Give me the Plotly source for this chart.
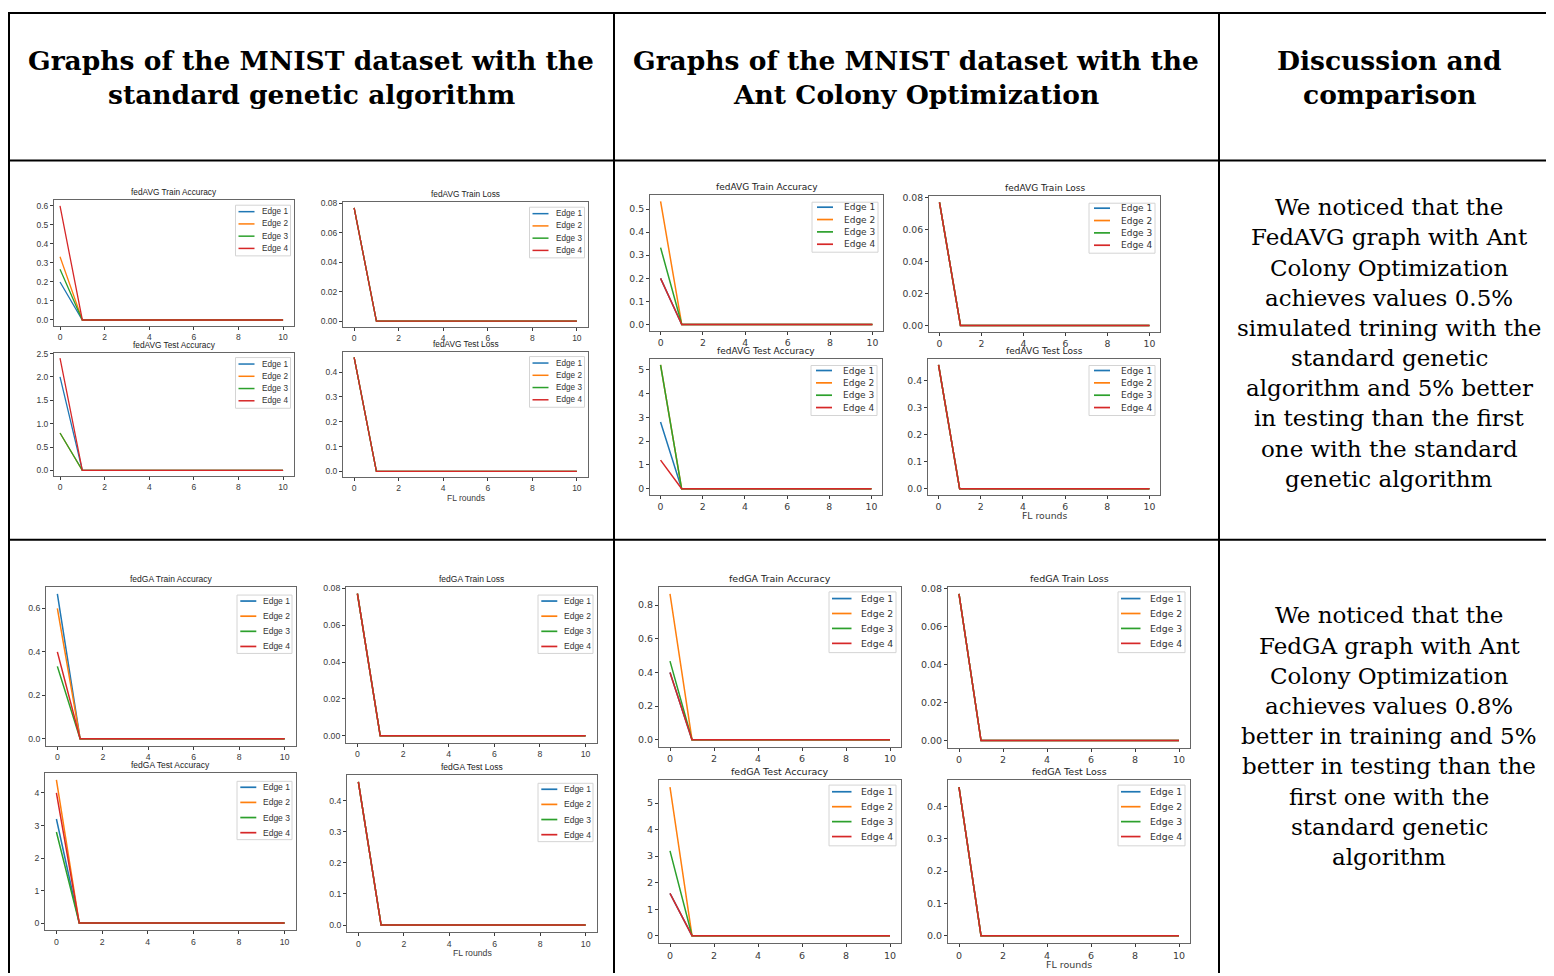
import plotly.graph_objects as go

# The page puts the figure 8px in from the left and 11px down from the top.
OFFX, OFFY = 8, 11
W, H = 1554 - OFFX, 976 - OFFY

# ---------------- data ----------------
rounds = [0, 1, 2, 3, 4, 5, 6, 7, 8, 9, 10]
edges = ["Edge 1", "Edge 2", "Edge 3", "Edge 4"]
colors = ["#1f77b4", "#ff7f0e", "#2ca02c", "#d62728"]

# MNIST, standard genetic algorithm - fedAVG
avg_ga_train_acc = [
    [0.20, 0, 0, 0, 0, 0, 0, 0, 0, 0, 0],
    [0.333, 0, 0, 0, 0, 0, 0, 0, 0, 0, 0],
    [0.267, 0, 0, 0, 0, 0, 0, 0, 0, 0, 0],
    [0.60, 0, 0, 0, 0, 0, 0, 0, 0, 0, 0],
]
avg_ga_train_loss = [
    [0.077, 0, 0, 0, 0, 0, 0, 0, 0, 0, 0],
    [0.077, 0, 0, 0, 0, 0, 0, 0, 0, 0, 0],
    [0.077, 0, 0, 0, 0, 0, 0, 0, 0, 0, 0],
    [0.077, 0, 0, 0, 0, 0, 0, 0, 0, 0, 0],
]
avg_ga_test_acc = [
    [2.0, 0, 0, 0, 0, 0, 0, 0, 0, 0, 0],
    [0.8, 0, 0, 0, 0, 0, 0, 0, 0, 0, 0],
    [0.8, 0, 0, 0, 0, 0, 0, 0, 0, 0, 0],
    [2.4, 0, 0, 0, 0, 0, 0, 0, 0, 0, 0],
]
avg_ga_test_loss = [
    [0.46, 0, 0, 0, 0, 0, 0, 0, 0, 0, 0],
    [0.46, 0, 0, 0, 0, 0, 0, 0, 0, 0, 0],
    [0.46, 0, 0, 0, 0, 0, 0, 0, 0, 0, 0],
    [0.46, 0, 0, 0, 0, 0, 0, 0, 0, 0, 0],
]

# MNIST, Ant Colony Optimization - fedAVG
avg_aco_train_acc = [
    [0.20, 0, 0, 0, 0, 0, 0, 0, 0, 0, 0],
    [0.533, 0, 0, 0, 0, 0, 0, 0, 0, 0, 0],
    [0.333, 0, 0, 0, 0, 0, 0, 0, 0, 0, 0],
    [0.20, 0, 0, 0, 0, 0, 0, 0, 0, 0, 0],
]
avg_aco_train_loss = [
    [0.077, 0, 0, 0, 0, 0, 0, 0, 0, 0, 0],
    [0.077, 0, 0, 0, 0, 0, 0, 0, 0, 0, 0],
    [0.077, 0, 0, 0, 0, 0, 0, 0, 0, 0, 0],
    [0.077, 0, 0, 0, 0, 0, 0, 0, 0, 0, 0],
]
avg_aco_test_acc = [
    [2.8, 0, 0, 0, 0, 0, 0, 0, 0, 0, 0],
    [5.2, 0, 0, 0, 0, 0, 0, 0, 0, 0, 0],
    [5.2, 0, 0, 0, 0, 0, 0, 0, 0, 0, 0],
    [1.2, 0, 0, 0, 0, 0, 0, 0, 0, 0, 0],
]
avg_aco_test_loss = [
    [0.46, 0, 0, 0, 0, 0, 0, 0, 0, 0, 0],
    [0.46, 0, 0, 0, 0, 0, 0, 0, 0, 0, 0],
    [0.46, 0, 0, 0, 0, 0, 0, 0, 0, 0, 0],
    [0.46, 0, 0, 0, 0, 0, 0, 0, 0, 0, 0],
]

# MNIST, standard genetic algorithm - fedGA
ga_ga_train_acc = [
    [0.667, 0, 0, 0, 0, 0, 0, 0, 0, 0, 0],
    [0.60, 0, 0, 0, 0, 0, 0, 0, 0, 0, 0],
    [0.333, 0, 0, 0, 0, 0, 0, 0, 0, 0, 0],
    [0.40, 0, 0, 0, 0, 0, 0, 0, 0, 0, 0],
]
ga_ga_train_loss = [
    [0.077, 0, 0, 0, 0, 0, 0, 0, 0, 0, 0],
    [0.077, 0, 0, 0, 0, 0, 0, 0, 0, 0, 0],
    [0.077, 0, 0, 0, 0, 0, 0, 0, 0, 0, 0],
    [0.077, 0, 0, 0, 0, 0, 0, 0, 0, 0, 0],
]
ga_ga_test_acc = [
    [3.2, 0, 0, 0, 0, 0, 0, 0, 0, 0, 0],
    [4.4, 0, 0, 0, 0, 0, 0, 0, 0, 0, 0],
    [2.8, 0, 0, 0, 0, 0, 0, 0, 0, 0, 0],
    [4.0, 0, 0, 0, 0, 0, 0, 0, 0, 0, 0],
]
ga_ga_test_loss = [
    [0.46, 0, 0, 0, 0, 0, 0, 0, 0, 0, 0],
    [0.46, 0, 0, 0, 0, 0, 0, 0, 0, 0, 0],
    [0.46, 0, 0, 0, 0, 0, 0, 0, 0, 0, 0],
    [0.46, 0, 0, 0, 0, 0, 0, 0, 0, 0, 0],
]

# MNIST, Ant Colony Optimization - fedGA
ga_aco_train_acc = [
    [0.40, 0, 0, 0, 0, 0, 0, 0, 0, 0, 0],
    [0.867, 0, 0, 0, 0, 0, 0, 0, 0, 0, 0],
    [0.467, 0, 0, 0, 0, 0, 0, 0, 0, 0, 0],
    [0.40, 0, 0, 0, 0, 0, 0, 0, 0, 0, 0],
]
ga_aco_train_loss = [
    [0.077, 0, 0, 0, 0, 0, 0, 0, 0, 0, 0],
    [0.077, 0, 0, 0, 0, 0, 0, 0, 0, 0, 0],
    [0.077, 0, 0, 0, 0, 0, 0, 0, 0, 0, 0],
    [0.077, 0, 0, 0, 0, 0, 0, 0, 0, 0, 0],
]
ga_aco_test_acc = [
    [1.6, 0, 0, 0, 0, 0, 0, 0, 0, 0, 0],
    [5.6, 0, 0, 0, 0, 0, 0, 0, 0, 0, 0],
    [3.2, 0, 0, 0, 0, 0, 0, 0, 0, 0, 0],
    [1.6, 0, 0, 0, 0, 0, 0, 0, 0, 0, 0],
]
ga_aco_test_loss = [
    [0.46, 0, 0, 0, 0, 0, 0, 0, 0, 0, 0],
    [0.46, 0, 0, 0, 0, 0, 0, 0, 0, 0, 0],
    [0.46, 0, 0, 0, 0, 0, 0, 0, 0, 0, 0],
    [0.46, 0, 0, 0, 0, 0, 0, 0, 0, 0, 0],
]

header_titles = [
    ["Graphs of the MNIST dataset with the", "standard genetic algorithm"],
    ["Graphs of the MNIST dataset with the", "Ant Colony Optimization"],
    ["Discussion and", "comparison"],
]
discussion_1 = [
    "We noticed that the", "FedAVG graph with Ant", "Colony Optimization",
    "achieves values 0.5%", "simulated trining with the", "standard genetic",
    "algorithm and 5% better", "in testing than the first", "one with the standard",
    "genetic algorithm",
]
discussion_2 = [
    "We noticed that the", "FedGA graph with Ant", "Colony Optimization",
    "achieves values 0.8%", "better in training and 5%", "better in testing than the",
    "first one with the", "standard genetic", "algorithm",
]


def px(x):
    return (x - OFFX) / W


def py(y):
    return 1 - (y - OFFY) / H


# ---------------- styles of the four screenshot groups ----------------
groups = {
    "A": dict(fam="Liberation Sans", tfs=8.5, hfs=8.3, lfs=8.2, lw=1.3,
              gt=5, e1=6.5, s=12.3, eb=7.5, gr=3.5, bw=55, ls=3, ll=16, tx=24),
    "B": dict(fam="DejaVu Sans", tfs=9.3, hfs=9, lfs=9, lw=1.5,
              gt=7, e1=5, s=12.4, eb=8, gr=5, bw=66, ls=5, ll=16, tx=30),
    "C": dict(fam="Liberation Sans", tfs=8.7, hfs=8.5, lfs=8.5, lw=1.5,
              gt=8.5, e1=6, s=15.2, eb=7, gr=4, bw=55, ls=3.3, ll=16, tx=24.3),
    "D": dict(fam="DejaVu Sans", tfs=9.5, hfs=9.5, lfs=9.3, lw=1.5,
              gt=5.3, e1=6.7, s=15, eb=9.3, gr=5, bw=67, ls=3, ll=19.5, tx=30),
}

# ---------------- panel layout (pixel boxes in the page) ----------------
# (data, title, group, x0, x1, y0, y1, x-range, dtick, tickformat, xlabel)
panels = [
    (avg_ga_train_acc, "fedAVG Train Accuracy", "A", 54, 294, 200, 326, [-0.27, 10.49], 0.1, ".1f", False),
    (avg_ga_train_loss, "fedAVG Train Loss", "A", 343, 588, 202, 327, [-0.5, 10.5], 0.02, ".2f", False),
    (avg_ga_test_acc, "fedAVG Test Accuracy", "A", 54, 294, 353, 477, [-0.27, 10.49], 0.5, ".1f", False),
    (avg_ga_test_loss, "fedAVG Test Loss", "A", 343, 588, 352, 478, [-0.5, 10.5], 0.1, ".1f", True),
    (avg_aco_train_acc, "fedAVG Train Accuracy", "B", 650, 883, 195, 331, [-0.5, 10.5], 0.1, ".1f", False),
    (avg_aco_train_loss, "fedAVG Train Loss", "B", 929, 1160, 196, 332, [-0.5, 10.5], 0.02, ".2f", False),
    (avg_aco_test_acc, "fedAVG Test Accuracy", "B", 650, 882, 359, 496, [-0.5, 10.5], 1, "d", False),
    (avg_aco_test_loss, "fedAVG Test Loss", "B", 928, 1160, 359, 496, [-0.5, 10.5], 0.1, ".1f", True),
    (ga_ga_train_acc, "fedGA Train Accuracy", "C", 46, 296, 588, 748, [-0.5, 10.5], 0.2, ".1f", False),
    (ga_ga_train_loss, "fedGA Train Loss", "C", 346, 597, 588, 745, [-0.5, 10.5], 0.02, ".2f", False),
    (ga_ga_test_acc, "fedGA Test Accuracy", "C", 45, 296, 775, 933, [-0.5, 10.5], 1, "d", False),
    (ga_ga_test_loss, "fedGA Test Loss", "C", 347, 597, 777, 935, [-0.5, 10.5], 0.1, ".1f", True),
    (ga_aco_train_acc, "fedGA Train Accuracy", "D", 659, 901, 588, 749, [-0.5, 10.5], 0.2, ".1f", False),
    (ga_aco_train_loss, "fedGA Train Loss", "D", 948, 1190, 588, 750, [-0.5, 10.5], 0.02, ".2f", False),
    (ga_aco_test_acc, "fedGA Test Accuracy", "D", 659, 901, 782, 946, [-0.5, 10.5], 1, "d", False),
    (ga_aco_test_loss, "fedGA Test Loss", "D", 948, 1190, 782, 946, [-0.5, 10.5], 0.1, ".1f", True),
]

fig = go.Figure()
layout = {}
annotations = []
shapes = []
tick_col = "#3a3a3a"
frame_col = "#666666"

for i, (series, title, g, x0, x1, y0, y1, xr, dtick, tfmt, xlabel) in enumerate(panels, start=1):
    st = groups[g]
    sfx = "" if i == 1 else str(i)
    for k in range(4):
        fig.add_trace(go.Scatter(
            x=rounds, y=series[k], mode="lines", name=edges[k],
            line=dict(color=colors[k], width=st["lw"]),
            xaxis=f"x{sfx}", yaxis=f"y{sfx}", showlegend=False,
        ))
    ymax = max(max(s) for s in series)
    yr = [-0.05 * ymax, 1.05 * ymax]
    common = dict(showgrid=False, zeroline=False, showline=True, mirror=True,
                  linecolor=frame_col, linewidth=1, ticks="outside", ticklen=3,
                  tickcolor=tick_col, tickwidth=1,
                  tickfont=dict(family=st["fam"], size=st["tfs"], color=tick_col))
    layout[f"xaxis{sfx}"] = dict(common, domain=[px(x0), px(x1)], anchor=f"y{sfx}", range=xr,
                                 tickmode="linear", tick0=0, dtick=2)
    layout[f"yaxis{sfx}"] = dict(common, domain=[py(y1), py(y0)], anchor=f"x{sfx}", range=yr,
                                 tickmode="linear", tick0=0, dtick=dtick, tickformat=tfmt)
    # subplot title
    annotations.append(dict(
        text=title, x=px((x0 + x1) / 2), y=py(y0 - 8), xref="paper", yref="paper",
        xanchor="center", yanchor="middle", showarrow=False,
        font=dict(family=st["fam"], size=st["hfs"], color="#222"),
    ))
    if xlabel:
        annotations.append(dict(
            text="FL rounds", x=px((x0 + x1) / 2), y=py(y1 + 21), xref="paper", yref="paper",
            xanchor="center", yanchor="middle", showarrow=False,
            font=dict(family=st["fam"], size=st["tfs"], color=tick_col),
        ))
    # legend box (matplotlib style, upper right)
    bx1 = x1 - st["gr"]
    bx0 = bx1 - st["bw"]
    by0 = y0 + st["gt"]
    by1 = by0 + st["e1"] + 3 * st["s"] + st["eb"]
    shapes.append(dict(type="rect", xref="paper", yref="paper", x0=px(bx0), x1=px(bx1),
                       y0=py(by1), y1=py(by0), line=dict(color="#d4d4d4", width=1),
                       fillcolor="rgba(255,255,255,0.85)", layer="above"))
    for k in range(4):
        ey = by0 + st["e1"] + k * st["s"]
        shapes.append(dict(type="line", xref="paper", yref="paper",
                           x0=px(bx0 + st["ls"]), x1=px(bx0 + st["ls"] + st["ll"]),
                           y0=py(ey), y1=py(ey), layer="above",
                           line=dict(color=colors[k], width=st["lw"] + 0.2)))
        annotations.append(dict(
            text=edges[k], x=px(bx0 + st["tx"]), y=py(ey), xref="paper", yref="paper",
            xanchor="left", yanchor="middle", showarrow=False,
            font=dict(family=st["fam"], size=st["lfs"], color="#333"),
        ))

# header texts
header_cx = [311, 916, 1389]
for cx, lines in zip(header_cx, header_titles):
    for j, ln in enumerate(lines):
        annotations.append(dict(
            text=f"<b>{ln}</b>", x=px(cx), y=py(60 + 34 * j), xref="paper", yref="paper",
            xanchor="center", yanchor="middle", showarrow=False,
            font=dict(family="DejaVu Serif", size=26.5, color="#000"),
        ))

# discussion texts
for start, lines in ((207, discussion_1), (617, discussion_2)):
    for j, ln in enumerate(lines):
        annotations.append(dict(
            text=ln, x=px(1389), y=py(start + 30.3 * j), xref="paper", yref="paper",
            xanchor="center", yanchor="middle", showarrow=False,
            font=dict(family="DejaVu Serif", size=23, color="#000"),
        ))

# table grid lines
for xv in (9, 614, 1219):
    shapes.append(dict(type="line", xref="paper", yref="paper", x0=px(xv), x1=px(xv),
                       y0=1, y1=0, line=dict(color="#000", width=2)))
for yv in (12, 160, 541):
    shapes.append(dict(type="line", xref="paper", yref="paper", x0=px(8), x1=1,
                       y0=py(yv), y1=py(yv), line=dict(color="#000", width=2)))

fig.update_layout(
    width=W, height=H, margin=dict(l=0, r=0, t=0, b=0),
    paper_bgcolor="white", plot_bgcolor="white",
    annotations=annotations, shapes=shapes, **layout,
)

fig.write_html("out.html")
